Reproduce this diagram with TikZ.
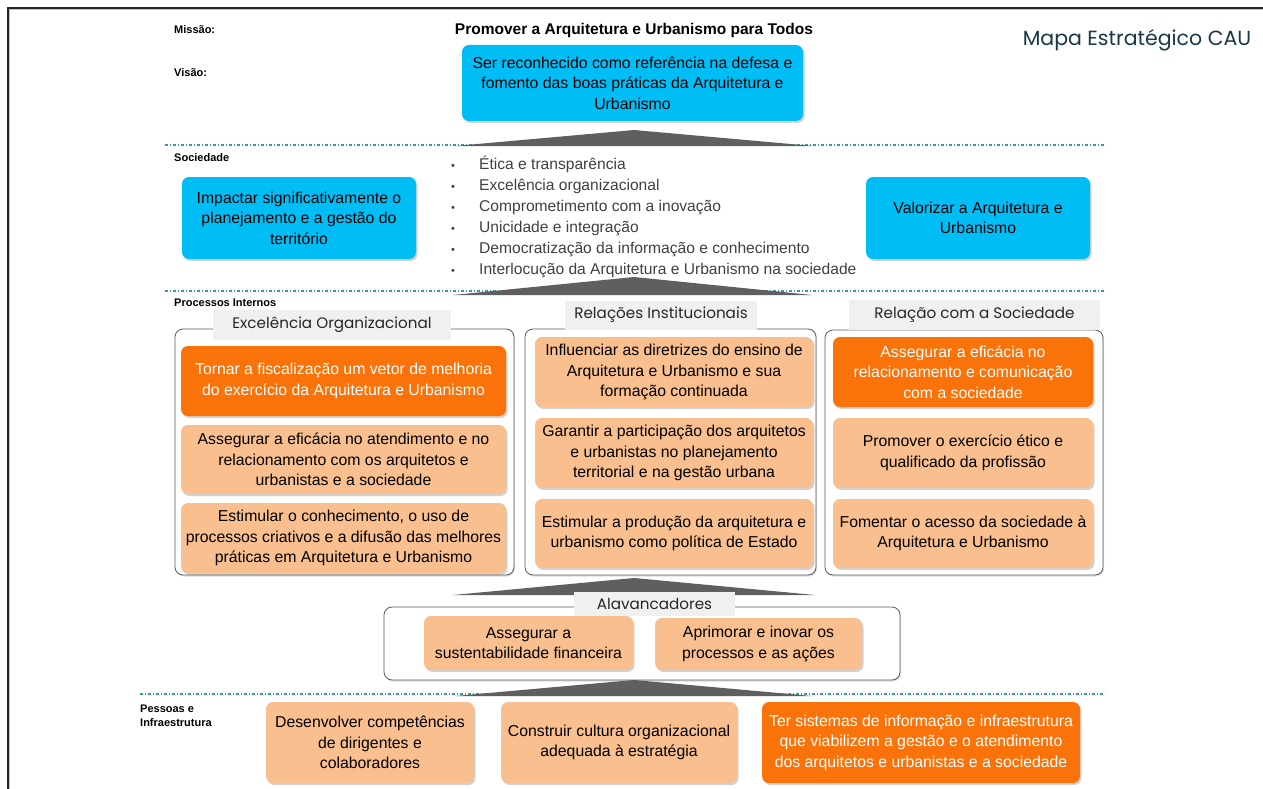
\documentclass[tikz,border=0pt]{standalone}
\usepackage{fontspec}
\setmainfont{Liberation Sans}
\newfontfamily\gothic{Poppins}
\usetikzlibrary{shadows}

\definecolor{caublue}{RGB}{0,190,245}
\definecolor{cauorange}{RGB}{250,115,10}
\definecolor{caupeach}{RGB}{250,191,143}
\definecolor{cautab}{RGB}{240,240,240}
\definecolor{cauteal}{RGB}{60,150,160}
\definecolor{cauwedge}{RGB}{95,95,95}
\definecolor{cautitle}{RGB}{25,55,70}

% bullet of the values list
\newcommand{\bul}{\makebox[28pt][l]{\fontsize{11}{11}\selectfont\textbullet}}
% grey wedge pointing up: left x, right x, base y, apex y
\newcommand{\wedgeup}[4]{\fill[cauwedge] (#1,#3) -- (634,#4) -- (#2,#3) -- cycle;}

\begin{document}
\begin{tikzpicture}[x=1pt,y=-1pt,
	every node/.style={font=\fontsize{15.8}{20.5}\selectfont, align=center, inner sep=0pt},
	goal/.style={rounded corners=7pt, drop shadow={opacity=0.35,shadow xshift=1.5pt,shadow yshift=-2pt}},
	bluebox/.style={goal, fill=caublue},
	hotbox/.style={goal, fill=cauorange, text=white},
	softbox/.style={goal, fill=caupeach},
	group/.style={draw=gray!70!black, fill=white, rounded corners=8pt, line width=0.8pt,
		drop shadow={opacity=0.25,shadow xshift=1pt,shadow yshift=-1.5pt}},
	tab/.style={fill=cautab, text=black!85, font=\gothic\fontsize{15.2}{17}\selectfont},
	lane/.style={anchor=west, font=\bfseries\fontsize{11}{13.5}\selectfont},
	divider/.style={cauteal, line width=1.2pt, dash pattern=on 3pt off 2pt on 1pt off 2pt}]
	\useasboundingbox[fill=white] (0,0) rectangle (1263,789);
	
	% page frame
	\draw[gray!50, line width=1pt] (9.8,789) -- (9.8,9.8) -- (1263,9.8);
	\draw[black!85, line width=1.5pt] (8,789) -- (8,8) -- (1263,8);
	
	% lanes
	\node[lane] (missao) at (174,30) {Missão:};
	\node[lane] (visao) at (174,73) {Visão:};
	\node[lane] (soc) at (174,158) {Sociedade};
	\node[lane] (proc) at (174,303) {Processos Internos};
	\node[lane, align=left] (pessoas) at (140,716) {Pessoas e\\Infraestrutura};
	
	\draw[divider] (165,145) -- (1105,145);
	\draw[divider] (165,291) -- (1105,291);
	\draw[divider] (140,694) -- (1105,694);
	
	\node[font=\gothic\fontsize{20.5}{22}\selectfont, text=cautitle] (mapa) at (1137,40) {Mapa Estratégico CAU};
	
	% missao / visao
	\node[font=\bfseries\fontsize{15.5}{18}\selectfont] (missaotxt) at (634,30)
	{Promover a Arquitetura e Urbanismo para Todos};
	\node[bluebox, minimum width=341pt, minimum height=76pt] (visaotxt) at (632.5,83)
	{Ser reconhecido como referência na defesa e\\fomento das boas práticas da Arquitetura e\\Urbanismo};
	\wedgeup{455}{813}{146}{130}
	
	% sociedade
	\node[bluebox, minimum width=234pt, minimum height=82pt] (impactar) at (299,218)
	{Impactar significativamente o\\planejamento e a gestão do\\território};
	\node[bluebox, minimum width=224pt, minimum height=82pt] (valorizar) at (978,218)
	{Valorizar a Arquitetura e\\Urbanismo};
	\node[anchor=west, align=left, text=black!75, font=\fontsize{15.6}{21}\selectfont] (valores) at (451,216.5)
	{\bul Ética e transparência\\
		\bul Excelência organizacional\\
		\bul Comprometimento com a inovação\\
		\bul Unicidade e integração\\
		\bul Democratização da informação e conhecimento\\
		\bul Interlocução da Arquitetura e Urbanismo na sociedade};
	\wedgeup{453}{812}{295}{277}
	
	% processos internos
	\node[group, minimum width=339pt, minimum height=246pt] (grpexc) at (344.5,452) {};
	\node[group, minimum width=291pt, minimum height=246pt] (grprel) at (670.5,452) {};
	\node[group, minimum width=278pt, minimum height=245pt] (grpsoc) at (964,452.5) {};
	\node[tab, minimum width=238pt, minimum height=30pt] (tabexc) at (332,325) {Excelência Organizacional};
	\node[tab, minimum width=192pt, minimum height=29pt] (tabrel) at (661,315) {Relações Institucionais};
	\node[tab, minimum width=251pt, minimum height=30pt] (tabsoc) at (974.5,315) {Relação com a Sociedade};
	
	\node[hotbox, minimum width=325pt, minimum height=70pt] (exc1) at (343.5,381)
	{Tornar a fiscalização um vetor de melhoria\\do exercício da Arquitetura e Urbanismo};
	\node[softbox, minimum width=325pt, minimum height=69pt] (exc2) at (343.5,459.5)
	{Assegurar a eficácia no atendimento e no\\relacionamento com os arquitetos e\\urbanistas e a sociedade};
	\node[softbox, minimum width=325pt, minimum height=70pt] (exc3) at (343.5,538)
	{Estimular o conhecimento, o uso de\\processos criativos e a difusão das melhores\\práticas em Arquitetura e Urbanismo};
	
	\node[softbox, minimum width=278pt, minimum height=70pt] (rel1) at (674,372)
	{Influenciar as diretrizes do ensino de\\Arquitetura e Urbanismo e sua\\formação continuada};
	\node[softbox, minimum width=278pt, minimum height=70pt] (rel2) at (674,453)
	{Garantir a participação dos arquitetos\\e urbanistas no planejamento\\territorial e na gestão urbana};
	\node[softbox, minimum width=278pt, minimum height=69pt] (rel3) at (674,533.5)
	{Estimular a produção da arquitetura e\\urbanismo como política de Estado};
	
	\node[hotbox, minimum width=260pt, minimum height=70pt] (soc1) at (963,372)
	{Assegurar a eficácia no\\relacionamento e comunicação\\com a sociedade};
	\node[softbox, minimum width=260pt, minimum height=70pt] (soc2) at (963,453)
	{Promover o exercício ético e\\qualificado da profissão};
	\node[softbox, minimum width=260pt, minimum height=69pt] (soc3) at (963,533.5)
	{Fomentar o acesso da sociedade à\\Arquitetura e Urbanismo};
	\wedgeup{453}{815}{595}{578}
	
	% alavancadores
	\node[group, minimum width=516pt, minimum height=73pt] (grpalav) at (642,643.5) {};
	\node[tab, minimum width=161pt, minimum height=24pt] (tabalav) at (654.5,604) {Alavancadores};
	\node[softbox, minimum width=209pt, minimum height=54pt] (alav1) at (528.5,643)
	{Assegurar a\\sustentabilidade financeira};
	\node[softbox, minimum width=207pt, minimum height=52pt] (alav2) at (758.5,644)
	{Aprimorar e inovar os\\processos e as ações};
	\wedgeup{455}{812}{696}{680}
	
	% pessoas e infraestrutura
	\node[softbox, minimum width=208pt, minimum height=81pt] (pes1) at (370,742.5)
	{Desenvolver competências\\de dirigentes e\\colaboradores};
	\node[softbox, minimum width=236pt, minimum height=81pt] (pes2) at (619,742.5)
	{Construir cultura organizacional\\adequada à estratégia};
	\node[hotbox, minimum width=318pt, minimum height=81pt] (pes3) at (921,742.5)
	{Ter sistemas de informação e infraestrutura\\que viabilizem a gestão e o atendimento\\dos arquitetos e urbanistas e a sociedade};
	
\end{tikzpicture}
\end{document}
